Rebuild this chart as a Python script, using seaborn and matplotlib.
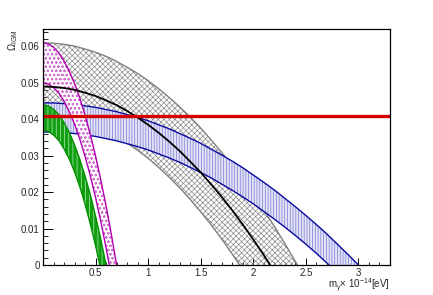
import numpy as np
import pandas as pd
import matplotlib
matplotlib.use("Agg")
import matplotlib.pyplot as plt
from matplotlib.ticker import MultipleLocator
import seaborn as sns

# values: m_gamma (x 1e-14 eV) vs Omega_IGM

# gray band (upper / lower edge) and black central curve
gray_up_x = [0, 0.1, 0.2, 0.3, 0.4, 0.5, 0.6, 0.7, 0.8, 0.9, 1.0, 1.1, 1.2, 1.3, 1.4,
             1.5, 1.6, 1.7, 1.8, 1.9, 2.0, 2.1, 2.2, 2.3, 2.42]
gray_up_y = [0.0610, 0.0609, 0.0606, 0.0601, 0.0593, 0.0584, 0.0573, 0.0559, 0.0543,
             0.0526, 0.0506, 0.0484, 0.0460, 0.0434, 0.0406, 0.0376, 0.0343, 0.0309,
             0.0273, 0.0234, 0.0193, 0.0151, 0.0106, 0.0059, 0.0]
gray_lo_x = [0, 0.1, 0.2, 0.3, 0.4, 0.5, 0.6, 0.7, 0.8, 0.9, 1.0, 1.1, 1.2, 1.3, 1.4,
             1.5, 1.6, 1.7, 1.8, 1.87]
gray_lo_y = [0.0410, 0.0409, 0.0405, 0.0399, 0.0391, 0.0381, 0.0368, 0.0353, 0.0335,
             0.0315, 0.0293, 0.0268, 0.0241, 0.0212, 0.0180, 0.0146, 0.0110, 0.0071,
             0.0030, 0.0]
black_x = [0, 0.1, 0.2, 0.3, 0.4, 0.5, 0.6, 0.7, 0.8, 0.9, 1.0, 1.1, 1.2, 1.3, 1.4,
           1.5, 1.6, 1.7, 1.8, 1.9, 2.0, 2.1, 2.16]
black_y = [0.0490, 0.0489, 0.0486, 0.0481, 0.0473, 0.0464, 0.0452, 0.0439, 0.0423,
           0.0405, 0.0385, 0.0363, 0.0339, 0.0313, 0.0284, 0.0254, 0.0221, 0.0187,
           0.0150, 0.0111, 0.0070, 0.0027, 0.0]

# blue band
blue_up_x = [0, 0.1, 0.2, 0.3, 0.4, 0.5, 0.6, 0.7, 0.8, 0.9, 1.0, 1.1, 1.2, 1.3, 1.4,
             1.5, 1.6, 1.7, 1.8, 1.9, 2.0, 2.1, 2.2, 2.3, 2.4, 2.5, 2.6, 2.7, 2.8, 2.9, 3.0]
blue_up_y = [0.0445, 0.0445, 0.0443, 0.0441, 0.0437, 0.0433, 0.0427, 0.0421, 0.0413,
             0.0405, 0.0396, 0.0385, 0.0374, 0.0361, 0.0348, 0.0334, 0.0318, 0.0302,
             0.0285, 0.0267, 0.0247, 0.0227, 0.0206, 0.0183, 0.0160, 0.0136, 0.0111,
             0.0085, 0.0057, 0.0029, 0.0]
blue_lo_x = [0, 0.1, 0.2, 0.3, 0.4, 0.5, 0.6, 0.7, 0.8, 0.9, 1.0, 1.1, 1.2, 1.3, 1.4,
             1.5, 1.6, 1.7, 1.8, 1.9, 2.0, 2.1, 2.2, 2.3, 2.4, 2.5, 2.6, 2.72]
blue_lo_y = [0.0365, 0.0365, 0.0363, 0.0361, 0.0357, 0.0353, 0.0347, 0.0341, 0.0333,
             0.0325, 0.0316, 0.0305, 0.0294, 0.0282, 0.0268, 0.0254, 0.0239, 0.0222,
             0.0205, 0.0187, 0.0168, 0.0147, 0.0126, 0.0104, 0.0081, 0.0057, 0.0032, 0.0]

# magenta band
mag_up_x = [0, 0.05, 0.1, 0.15, 0.2, 0.25, 0.3, 0.35, 0.4, 0.45, 0.5, 0.55, 0.6, 0.65, 0.70]
mag_up_y = [0.0610, 0.0607, 0.0598, 0.0582, 0.0560, 0.0532, 0.0498, 0.0458, 0.0411,
            0.0358, 0.0299, 0.0233, 0.0162, 0.0084, 0.0]
mag_lo_x = [0, 0.05, 0.1, 0.15, 0.2, 0.25, 0.3, 0.35, 0.4, 0.45, 0.5, 0.55, 0.6, 0.63]
mag_lo_y = [0.0500, 0.0497, 0.0487, 0.0472, 0.0450, 0.0421, 0.0387, 0.0346, 0.0298,
            0.0245, 0.0185, 0.0119, 0.0047, 0.0]

# green band
green_up_x = [0, 0.05, 0.1, 0.15, 0.2, 0.25, 0.3, 0.35, 0.4, 0.45, 0.5, 0.55, 0.60]
green_up_y = [0.0440, 0.0437, 0.0428, 0.0413, 0.0391, 0.0364, 0.0330, 0.0290, 0.0244,
              0.0193, 0.0134, 0.0070, 0.0]
green_lo_x = [0, 0.05, 0.1, 0.15, 0.2, 0.25, 0.3, 0.35, 0.4, 0.45, 0.5, 0.54]
green_lo_y = [0.0370, 0.0367, 0.0357, 0.0342, 0.0319, 0.0291, 0.0256, 0.0215, 0.0167,
              0.0113, 0.0053, 0.0]

# horizontal reference level
omega_ref = 0.041

x_range = (0.0, 3.3)
y_range = (0.0, 0.0648)

sns.set_theme(style="ticks")
plt.rcParams['font.family'] = ['Liberation Sans', 'DejaVu Sans']
plt.rcParams['mathtext.fontset'] = 'custom'
plt.rcParams['mathtext.rm'] = 'Liberation Sans'
plt.rcParams['mathtext.it'] = 'Liberation Sans:italic'
plt.rcParams['hatch.linewidth'] = 0.5

fig = plt.figure(figsize=(4.33, 2.95), dpi=100)
ax = fig.add_axes([43 / 433, 30 / 295, 347 / 433, 236 / 295])


def band(xu, yu, xl, yl, face, hatch, hcolor, z):
    px = list(xu) + list(xl)[::-1]
    py = list(yu) + list(yl)[::-1]
    ax.fill(px, py, facecolor=face, edgecolor=hcolor, hatch=hatch, linewidth=0, zorder=z)


def edge(x, y, color, lw, z):
    df = pd.DataFrame({"m": x, "omega": y})
    sns.lineplot(data=df, x="m", y="omega", color=color, linewidth=lw,
                 sort=False, estimator=None, ax=ax, zorder=z)


# gray band
band(gray_up_x, gray_up_y, gray_lo_x, gray_lo_y, 'none', 'xxxxxx', '#8c8c8c', 1)
edge(gray_up_x, gray_up_y, '#808080', 1.0, 2)
edge(gray_lo_x, gray_lo_y, '#808080', 1.0, 2)

# blue band
band(blue_up_x, blue_up_y, blue_lo_x, blue_lo_y, '#e2e2f6', '||||||', '#7a7ad8', 3)
edge(blue_up_x, blue_up_y, '#0a0aa0', 1.0, 4)
edge(blue_lo_x, blue_lo_y, '#0a0aa0', 1.0, 4)

# magenta band
band(mag_up_x, mag_up_y, mag_lo_x, mag_lo_y, 'white', 'oooo', '#d070d0', 5)
edge(mag_up_x, mag_up_y, '#b000b0', 1.0, 6)
edge(mag_lo_x, mag_lo_y, '#b000b0', 1.0, 6)

# green band
band(green_up_x, green_up_y, green_lo_x, green_lo_y, '#10a010', '||||', '#b8e8b8', 5)
edge(green_up_x, green_up_y, '#009000', 1.0, 6)
edge(green_lo_x, green_lo_y, '#009000', 1.0, 6)

# central curve and reference line
edge(black_x, black_y, 'black', 1.3, 7)
ax.axhline(omega_ref, color='#d40000', linewidth=2.4, zorder=8)

ax.set_xlim(*x_range)
ax.set_ylim(*y_range)
ax.set_xticks([0.5, 1.0, 1.5, 2.0, 2.5, 3.0])
ax.set_xticklabels(['0.5', '1', '1.5', '2', '2.5', '3'])
ax.xaxis.set_minor_locator(MultipleLocator(0.1))
ax.set_yticks([0, 0.01, 0.02, 0.03, 0.04, 0.05, 0.06])
ax.set_yticklabels(['0', '0.01', '0.02', '0.03', '0.04', '0.05', '0.06'])
ax.yaxis.set_minor_locator(MultipleLocator(0.002))

ax.tick_params(axis='x', which='major', direction='in', length=4.8, width=0.7,
               labelsize=7, pad=2.5, top=False, color='black')
ax.tick_params(axis='x', which='minor', direction='in', length=2.4, width=0.7, top=False)
ax.tick_params(axis='y', which='major', direction='in', length=7.0, width=0.7,
               labelsize=7, pad=2.5, right=False, color='black')
ax.tick_params(axis='y', which='minor', direction='in', length=3.5, width=0.7, right=False)

for s in ax.spines.values():
    s.set_color('black')
    s.set_linewidth(0.9)
    s.set_zorder(10)

ax.set_xlabel(r'm$_{\gamma}$$\times$ 10$^{-14}$[eV]', fontsize=7, loc='right')
ax.xaxis.set_label_coords(1.0, -0.052)
ax.set_ylabel(r'$\Omega_{\rm IGM}$', fontsize=7, loc='top')
ax.yaxis.set_label_coords(-0.066, 1.0)

fig.savefig('out.png', dpi=100, facecolor='white')
